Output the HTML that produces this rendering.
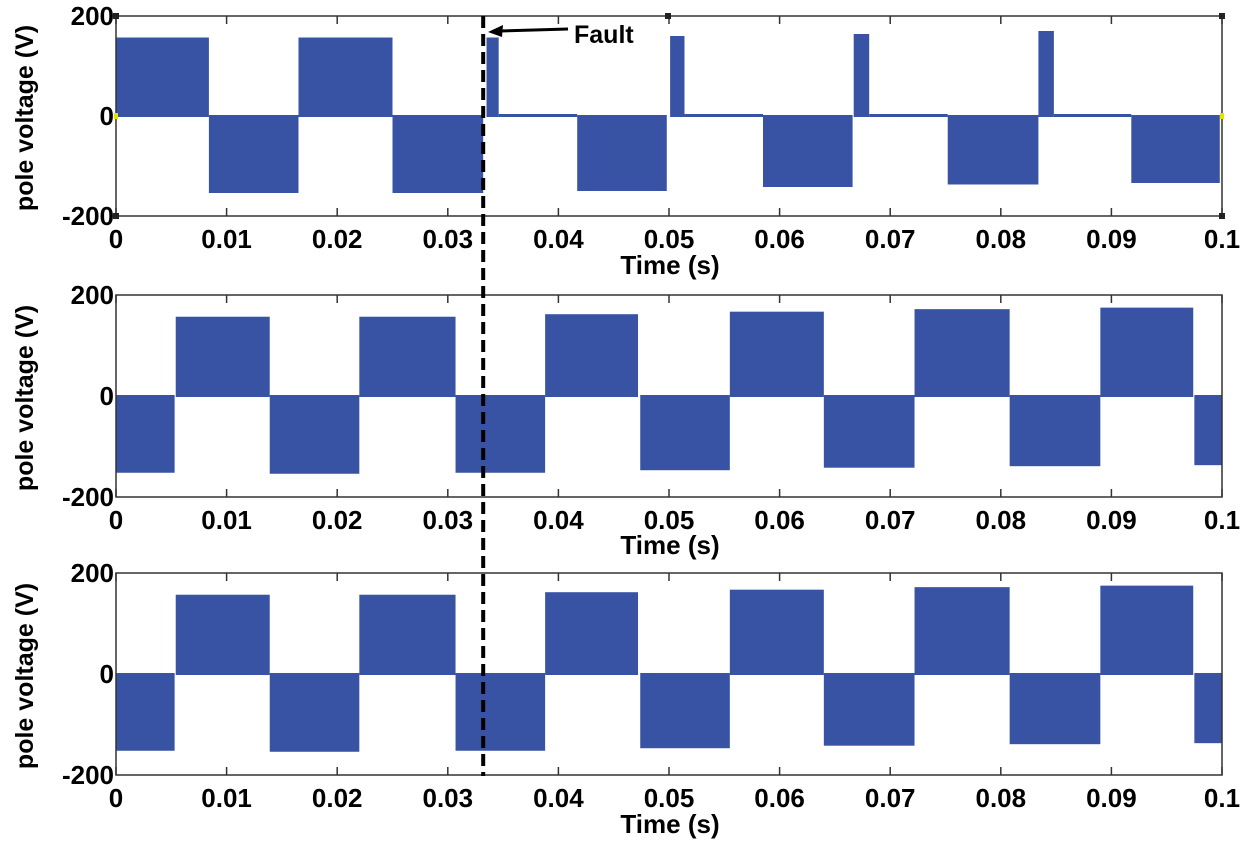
<!DOCTYPE html>
<html><head><meta charset="utf-8"><style>
body{margin:0;background:#fff}
svg{display:block;font-family:"Liberation Sans",Arial,sans-serif;font-weight:bold}
</style></head><body>
<svg id="c" width="1245" height="845" viewBox="0 0 1245 845"></svg>
<script>
// Panel 1 blocks: start time, end time, value (V)
const p1Start=[0,0.0084,0.0165,0.025,0.0335,0.0346,0.0417,0.0501,0.0514,0.0585,0.0667,0.0681,0.0752,0.0834,0.0848,0.0918];
const p1End=[0.0084,0.0165,0.025,0.0332,0.0346,0.0417,0.0498,0.0514,0.0585,0.0666,0.0681,0.0752,0.0834,0.0848,0.0918,0.0998];
const p1Val=[155,-152,155,-152,155,2,-148,158,2,-140,162,2,-135,168,2,-132];
// Panel 2 blocks
const p2Start=[0,0.0054,0.0139,0.022,0.0307,0.0388,0.0474,0.0555,0.064,0.0722,0.0808,0.089,0.0975];
const p2End=[0.0053,0.0139,0.022,0.0307,0.0388,0.0472,0.0555,0.064,0.0722,0.0808,0.089,0.0974,0.1];
const p2Val=[-150,155,-152,155,-150,160,-145,165,-140,170,-137,173,-135];
// Panel 3 blocks
const p3Start=[0,0.0054,0.0139,0.022,0.0307,0.0388,0.0474,0.0555,0.064,0.0722,0.0808,0.089,0.0975];
const p3End=[0.0053,0.0139,0.022,0.0307,0.0388,0.0472,0.0555,0.064,0.0722,0.0808,0.089,0.0974,0.1];
const p3Val=[-150,155,-152,155,-150,160,-145,165,-140,170,-137,173,-135];
const xTicks=[0,0.01,0.02,0.03,0.04,0.05,0.06,0.07,0.08,0.09,0.1];
const xTickLabels=["0","0.01","0.02","0.03","0.04","0.05","0.06","0.07","0.08","0.09","0.1"];
const yTicks=[200,0,-200];
const yTickLabels=["200","0","-200"];
const faultTime=0.0332;

const NS="http://www.w3.org/2000/svg";
const svg=document.getElementById('c');
function el(t,a,p){const e=document.createElementNS(NS,t);for(const k in a)e.setAttribute(k,a[k]);(p||svg).appendChild(e);return e;}
const X0=116,X1=1222;
const xs=t=>X0+(t/0.1)*(X1-X0);
const panels=[{top:16,bot:216,s:p1Start,e:p1End,v:p1Val,lab:274},{top:295,bot:497,s:p2Start,e:p2End,v:p2Val,lab:554},{top:573,bot:775,s:p3Start,e:p3End,v:p3Val,lab:833}];
panels.forEach((p,i)=>{
  const g=el('g',{});
  
  
  const ys=v=>p.top+(200-v)/400*(p.bot-p.top);
  for(let k=0;k<p.v.length;k++){
    const x1=xs(p.s[k]),x2=xs(p.e[k]);
    const y0=ys(0),yv=ys(p.v[k]);
    const r=el('rect',{x:x1,y:Math.min(y0,yv)-1,width:x2-x1,height:Math.abs(yv-y0)+2,fill:'#3953a4'},g);
    
    
  }
  el('rect',{x:X0,y:p.top,width:X1-X0,height:p.bot-p.top,fill:'none',stroke:'#333','stroke-width':1.5},g);
  xTicks.forEach((t,j)=>{
    const x=xs(t);
    el('line',{x1:x,y1:p.top,x2:x,y2:p.top+8,stroke:'#333','stroke-width':1.5},g);
    el('line',{x1:x,y1:p.bot,x2:x,y2:p.bot-8,stroke:'#333','stroke-width':1.5},g);
    const tx=el('text',{x:x,y:p.bot+32,'font-size':26,'text-anchor':'middle'},g);
    tx.textContent=xTickLabels[j];
    
    
  });
  yTicks.forEach((v,j)=>{
    const ty=el('text',{x:X0-2,y:ys(v)+9,'font-size':26,'text-anchor':'end'},g);
    ty.textContent=yTickLabels[j];
    
    
  });
  const xt=el('text',{x:670,y:p.lab,'font-size':26,'text-anchor':'middle'},g);
  xt.textContent='Time (s)';
  
  
  const cy=(p.top+p.bot)/2+2;
  const yt=el('text',{x:0,y:0,'font-size':25,'text-anchor':'middle',transform:`translate(33,${cy}) rotate(-90)`},g);
  yt.textContent='pole voltage (V)';
  
  
  if(i===0){
    [[X0,p.top],[X1,p.top],[X0,p.bot],[X1,p.bot],[668,p.top]].forEach(c=>el('rect',{x:c[0]-3,y:c[1]-3,width:6,height:6,fill:'#222'},g));
    el('rect',{x:X0-2,y:ys(0)-3,width:4,height:6,fill:'#e8e000'},g);
    el('rect',{x:X1-2,y:ys(0)-3,width:4,height:6,fill:'#e8e000'},g);
  }
});
const fx=xs(faultTime);
const fl=el('line',{x1:fx,y1:16,x2:fx,y2:776,stroke:'#000','stroke-width':4,'stroke-dasharray':'12 6'});


const ar=el('line',{x1:568,y1:29,x2:500,y2:31,stroke:'#000','stroke-width':3});


el('polygon',{points:'488,32 503,25 502,37',fill:'#000'});
const ft=el('text',{x:574,y:43,'font-size':25});
ft.textContent='Fault';


</script>
</body></html>
